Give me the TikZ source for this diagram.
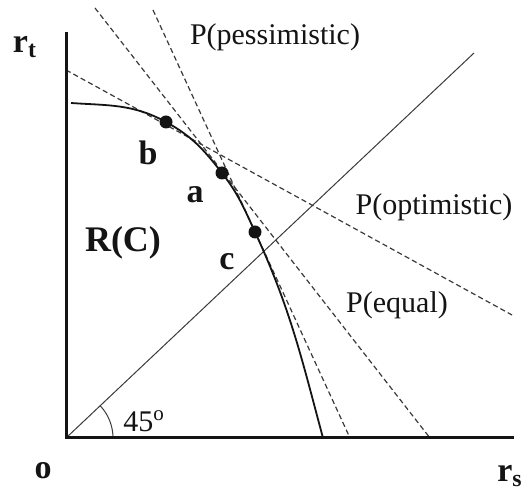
\documentclass[tikz,border=0pt]{standalone}
\usepackage{fontspec}
\setmainfont{Liberation Serif}
\usetikzlibrary{positioning, calc}
\definecolor{cink}{HTML}{141414}
\definecolor{cline}{HTML}{3A3A3A}
\tikzset{
  every picture/.style={x=0.5pt, y=0.5pt},
  axis/.style={draw=cink, line width=1.5pt},
  frontier/.style={draw=cink, line width=0.9pt},
  price/.style={draw=cline, line width=0.6pt, dash pattern=on 2.6pt off 1.6pt},
  diag/.style={draw=cline, line width=0.5pt},
  dot/.style={circle, fill=cink, inner sep=0pt, minimum size=6.5pt},
  plain/.style={font=\fontsize{15}{17}\selectfont, text=cink, inner sep=0pt},
  bold/.style={font=\fontsize{17}{19}\selectfont\bfseries, text=cink, inner sep=0pt},
}
\begin{document}
\begin{tikzpicture}
  \useasboundingbox (-66,-52) rectangle (458,438);
  \coordinate (o) at (0,0);
  \coordinate (ytop) at (0,406);
  \coordinate (xend) at (448,0);
  \coordinate (dend) at (408,385);
  \coordinate (f0) at (5,335);
  \coordinate (f1) at (257,0);
  \coordinate (pb) at (100,316);
  \coordinate (pa) at (156,265);
  \coordinate (pc) at (189,206);
  \coordinate (opt0) at (0,368);
  \coordinate (opt1) at (446,123);
  \coordinate (eq0) at (29,430);
  \coordinate (eq1) at (364,0);
  \coordinate (pes0) at (87,428);
  \coordinate (pes1) at (284,0);
  \draw[diag] (o) -- (dend);
  \draw[diag] (47,0) arc[start angle=0, end angle=43.3, radius=47];
  \draw[price] (opt0) -- (opt1);
  \draw[price] (eq0) -- (eq1);
  \draw[price] (pes0) -- (pes1);
  \draw[frontier] (f0) to[out=-4, in=151.2] (pb) to[out=-28.8, in=127.9] (pa)
    to[out=-52.1, in=114.7] (pc) to[out=-65.3, in=105] (f1);
  \foreach \p in {pb,pa,pc} \node[dot] at (\p) {};
  \draw[axis] (ytop) -- (o) -- (xend);
  \node[bold] (rt) at (-41,391) {r\textsubscript{t}};
  \node[bold] (rs) at (444,-38) {r\textsubscript{s}};
  \node[bold] (orig) at (-23,-33) {o};
  \node[bold] (lb) at (82,285) {b};
  \node[bold] (la) at (129,243) {a};
  \node[bold] (lc) at (161,176) {c};
  \node[bold, font=\fontsize{18}{20}\selectfont\bfseries] (region) at (57,195) {R(C)};
  \node[plain, anchor=west] (angle) at (57,17) {45\textsuperscript{o}};
  \node[plain] (pes) at (209,401) {P(pessimistic)};
  \node[plain] (opt) at (368,231) {P(optimistic)};
  \node[plain] (eq) at (331,133) {P(equal)};
\end{tikzpicture}
\end{document}
